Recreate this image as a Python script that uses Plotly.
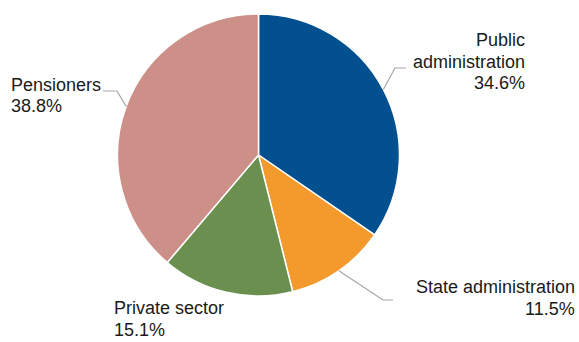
import math
import plotly.graph_objects as go

# ---- data ----
categories = ["Public administration", "State administration", "Private sector", "Pensioners"]
shares = [34.6, 11.5, 15.1, 38.8]
label_lines = [["Public", "administration", "34.6%"],
               ["State administration", "11.5%"],
               ["Private sector", "15.1%"],
               ["Pensioners", "38.8%"]]
colors = ["#02508F", "#F4992B", "#6A8F4F", "#CD9088"]

# ---- layout constants (pixels) ----
W, H = 579, 342
CX, CY, R = 258.5, 155, 141
FONT = dict(family="Liberation Sans, Arial, sans-serif", size=18, color="#1A1A1A")
LINE_GAP = 21.5
# label anchor: (x, first-line y, xanchor)
label_pos = [(526, 40, "right"), (576, 287, "right"), (113, 308, "left"), (10, 85, "left")]
# leader elbows: (elbow, end) or None
leaders = [((395, 68), (406, 68)), ((383, 300), (393, 300)), None, ((117, 91), (103, 91))]

def px(x):
    return x / W

def py(y):
    return 1 - y / H

fig = go.Figure(go.Pie(
    labels=categories, values=shares, sort=False, direction="clockwise", rotation=0,
    marker=dict(colors=colors, line=dict(color="white", width=1.5)),
    textinfo="none", hoverinfo="label+percent", showlegend=False,
    domain=dict(x=[px(CX - R), px(CX + R)], y=[py(CY + R), py(CY - R)]),
))

annotations = []
shapes = []
total = sum(shares)
cum = 0
for i, v in enumerate(shares):
    mid = (cum + v / 2) / total * 2 * math.pi
    cum += v
    x0, y0, anch = label_pos[i]
    for j, t in enumerate(label_lines[i]):
        annotations.append(dict(text=t, x=px(x0), y=py(y0 + j * LINE_GAP), xref="paper", yref="paper",
                                xanchor=anch, yanchor="middle", showarrow=False, font=FONT,
                                borderpad=0))
    if leaders[i]:
        ex, ey = CX + R * math.sin(mid), CY - R * math.cos(mid)
        (bx, by), (fx, fy) = leaders[i]
        path = f"M {px(ex)} {py(ey)} L {px(bx)} {py(by)} L {px(fx)} {py(fy)}"
        shapes.append(dict(type="path", path=path, xref="paper", yref="paper",
                           line=dict(color="#A6A6A6", width=1.2)))

fig.update_layout(width=W, height=H, margin=dict(l=0, r=0, t=0, b=0),
                  paper_bgcolor="white", plot_bgcolor="white",
                  annotations=annotations, shapes=shapes)
fig.write_html("out.html")
